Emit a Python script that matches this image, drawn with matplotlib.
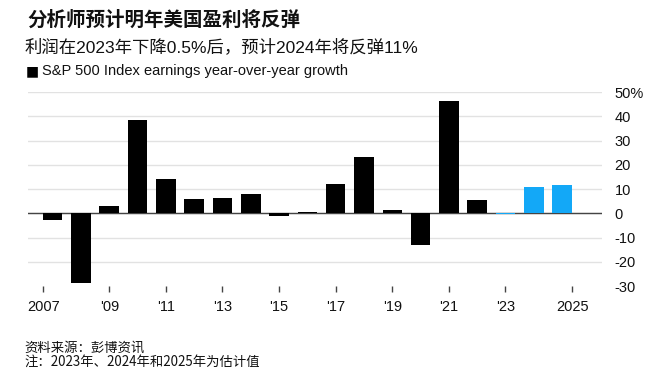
import matplotlib
matplotlib.use("Agg")
import matplotlib.pyplot as plt
import numpy as np

# 数据
years = list(range(2007, 2026))
growth = [-2.8, -28.6, 2.8, 38.3, 14.3, 5.7, 6.3, 7.9, -1.1, 0.7,
          12.0, 23.3, 1.2, -12.9, 46.2, 5.4, -0.5, 10.9, 11.7]
estimate_from = 2023
tick_years = [2007, 2009, 2011, 2013, 2015, 2017, 2019, 2021, 2023, 2025]
tick_labels = ["2007", "'09", "'11", "'13", "'15", "'17", "'19", "'21", "'23", "2025"]
y_ticks = [-30, -20, -10, 0, 10, 20, 30, 40, 50]
y_labels = ["-30", "-20", "-10", "0", "10", "20", "30", "40", "50%"]

title = "分析师预计明年美国盈利将反弹"
subtitle = "利润在2023年下降0.5%后，预计2024年将反弹11%"
legend_txt = "S&P 500 Index earnings year-over-year growth"
source = "资料来源：彭博资讯"
note = "注：2023年、2024年和2025年为估计值"

latin = ["Liberation Sans", "Noto Sans CJK SC", "DejaVu Sans"]
cjk = ["Noto Sans CJK SC", "DejaVu Sans"]
plt.rcParams["font.family"] = latin

fig = plt.figure(figsize=(6.58, 3.81), dpi=100)
ax = fig.add_axes([0.0426, 0.2493, 0.8723, 0.5092])

colors = ["#13a8f7" if y >= estimate_from else "#000000" for y in years]
ax.bar(years, growth, width=0.69, color=colors, zorder=3)

ax.set_ylim(-30, 50)
ax.set_xlim(2006.13, 2026.41)

for v in y_ticks[1:]:
    ax.axhline(v, color="#e2e2e2", lw=1.0, zorder=1)
ax.axhline(0, color="#444444", lw=1.0, zorder=2)

# 首尾刻度稍微往外偏
tick_pos = [float(t) for t in tick_years]
tick_pos[0] -= 0.33
tick_pos[-1] += 0.36
ax.set_xticks(tick_pos)
ax.set_xticklabels(tick_labels, fontsize=10.5, color="#111111")
ax.tick_params(axis="x", length=4, width=1, color="#444444", pad=6)

ax.yaxis.tick_right()
ax.set_yticks(y_ticks)
ax.set_yticklabels(y_labels, fontsize=10.5, color="#111111", ha="left")
ax.tick_params(axis="y", length=0, pad=9)

for s in ax.spines.values():
    s.set_visible(False)

fig.text(0.041, 0.946, title, fontsize=14, fontweight="bold",
         family=cjk, va="center", ha="left", color="#111111")
fig.text(0.038, 0.877, subtitle, fontsize=12.5, va="center", ha="left",
         color="#111111")
fig.text(0.039, 0.8136, "■", fontsize=10, family=["DejaVu Sans"],
         va="center", ha="left", color="#000000")
fig.text(0.0645, 0.8136, legend_txt, fontsize=10.5, va="center", ha="left",
         color="#111111")
fig.text(0.037, 0.087, source, fontsize=9.6, family=cjk, va="center",
         ha="left", color="#111111")
fig.text(0.037, 0.050, note, fontsize=9.6, family=cjk, va="center",
         ha="left", color="#111111")

fig.savefig("out.png", dpi=100)
